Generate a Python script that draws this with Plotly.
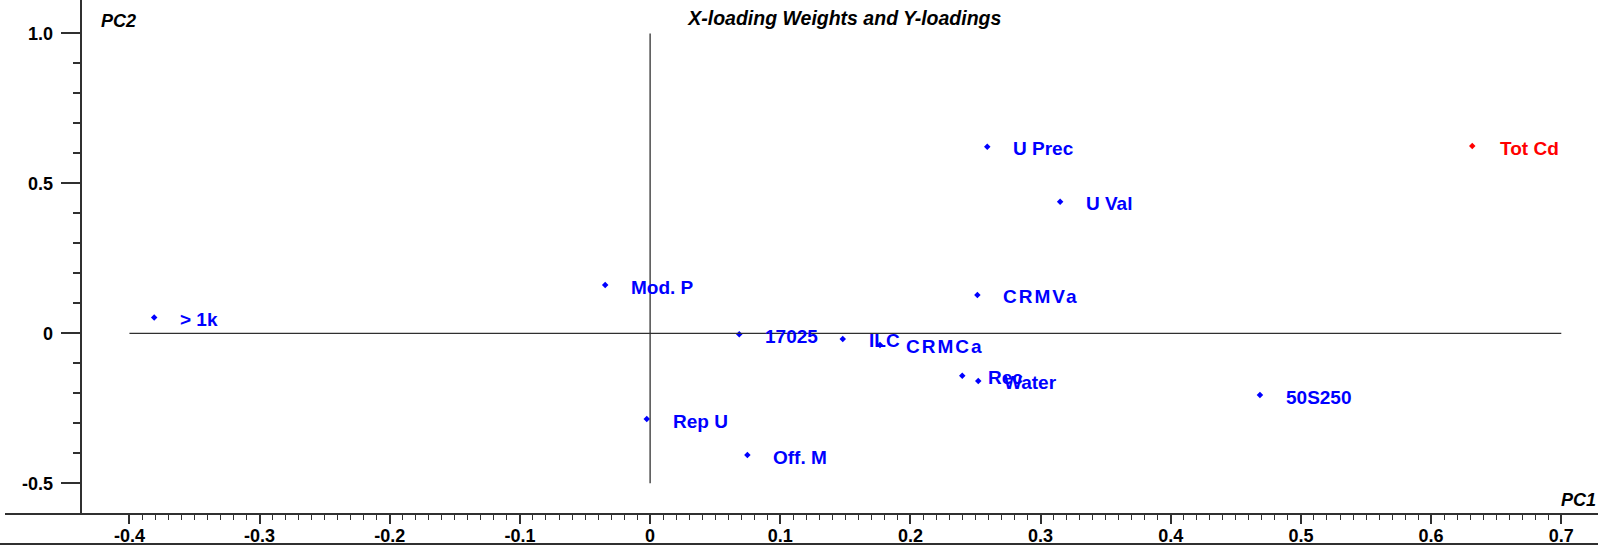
import numpy as np
import plotly.graph_objects as go

# ---- data ----
labels = ["> 1k", "Mod. P", "17025", "ILC", "CRMCa", "Rec", "Water", "CRMVa",
          "U Prec", "U Val", "50S250", "Rep U", "Off. M"]
pc1 = [-0.381, -0.0345, 0.0685, 0.148, 0.1766, 0.2398, 0.2521, 0.2514,
       0.259, 0.315, 0.4685, -0.0026, 0.0747]
pc2 = [0.053, 0.161, -0.003, -0.019, -0.039, -0.142, -0.159, 0.128,
       0.622, 0.439, -0.206, -0.286, -0.406]

y_labels = ["Tot Cd"]
y_pc1 = [0.6316]
y_pc2 = [0.6247]

x_ticks = [-0.4, -0.3, -0.2, -0.1, 0.0, 0.1, 0.2, 0.3, 0.4, 0.5, 0.6, 0.7]
x_ticktext = ["-0.4", "-0.3", "-0.2", "-0.1", "0", "0.1", "0.2", "0.3", "0.4", "0.5", "0.6", "0.7"]
y_ticks = [-0.5, 0.0, 0.5, 1.0]
y_ticktext = ["-0.5", "0", "0.5", "1.0"]

BLUE = "#0000ff"
RED = "#ff0000"
AX = "#303030"
FONT = "Liberation Sans, Arial, sans-serif"

x_minor = [round(v, 2) for v in np.arange(-0.40, 0.7001, 0.01)]
y_minor = [round(v, 2) for v in np.arange(-0.5, 1.0001, 0.1)]


def spaced(s):
    # the original renders the CRM abbreviations with wider letter spacing
    if s.startswith("CRM"):
        return '<span style="letter-spacing:2px">' + s + "</span>"
    return s


fig = go.Figure()
fig.add_trace(go.Scatter(x=pc1, y=pc2, mode="markers",
                         marker=dict(symbol="diamond", size=5, color=BLUE),
                         hoverinfo="text", text=labels, showlegend=False))
fig.add_trace(go.Scatter(x=y_pc1, y=y_pc2, mode="markers",
                         marker=dict(symbol="diamond", size=5, color=RED),
                         hoverinfo="text", text=y_labels, showlegend=False))

for lab, xv, yv in zip(labels, pc1, pc2):
    fig.add_annotation(x=xv, y=yv, text=spaced(lab), showarrow=False, xanchor="left",
                       yanchor="middle", xshift=24, yshift=-2,
                       font=dict(family=FONT, size=19, color=BLUE, weight="bold"))
for lab, xv, yv in zip(y_labels, y_pc1, y_pc2):
    fig.add_annotation(x=xv, y=yv, text=lab, showarrow=False, xanchor="left",
                       yanchor="middle", xshift=26, yshift=-2,
                       font=dict(family=FONT, size=19, color=RED, weight="bold"))

# origin cross lines
fig.add_shape(type="line", xref="x", yref="y", x0=x_ticks[0], x1=x_ticks[-1], y0=0, y1=0,
              line=dict(color=AX, width=1.3))
fig.add_shape(type="line", xref="x", yref="y", x0=0, x1=0, y0=y_ticks[0], y1=y_ticks[-1],
              line=dict(color=AX, width=1.3))
# bottom frame line
fig.add_shape(type="line", xref="paper", yref="paper", x0=-0.01, x1=1.0, y0=-0.0604, y1=-0.0604,
              line=dict(color=AX, width=2))

# axis titles
fig.add_annotation(xref="paper", yref="paper", x=0.059, y=0.9597, text="PC2",
                   showarrow=False, xanchor="left", yanchor="middle",
                   font=dict(family=FONT, size=18, color="black", weight="bold", style="italic"))
fig.add_annotation(xref="paper", yref="paper", x=0.9753, y=0.0263, text="PC1",
                   showarrow=False, xanchor="left", yanchor="middle",
                   font=dict(family=FONT, size=18, color="black", weight="bold", style="italic"))

fig.update_layout(
    width=1598, height=548,
    margin=dict(l=5, r=0, t=0, b=35),
    paper_bgcolor="white", plot_bgcolor="white",
    title=dict(text="X-loading Weights and Y-loadings", xref="paper", x=0.4289,
               xanchor="left", yref="container", y=0.967, yanchor="middle",
               font=dict(family=FONT, size=19.5, color="black", weight="bold", style="italic")),
    xaxis=dict(range=[-0.4956, 0.7282], showgrid=False, zeroline=False,
               showline=True, linecolor=AX, linewidth=1.5,
               tickmode="array", tickvals=x_ticks, ticktext=x_ticktext,
               ticks="outside", ticklen=9, tickwidth=1.5, tickcolor=AX,
               ticklabelstandoff=-3,
               minor=dict(tickmode="array", tickvals=x_minor, ticks="outside", ticklen=5,
                          tickwidth=1, tickcolor=AX, showgrid=False),
               tickfont=dict(family=FONT, size=18, color="black", weight="bold")),
    yaxis=dict(range=[-0.5994, 1.1117], showgrid=False, zeroline=False,
               anchor="free", position=0.048,
               showline=True, linecolor=AX, linewidth=1.5,
               tickmode="array", tickvals=y_ticks, ticktext=y_ticktext,
               ticks="outside", ticklen=20, tickwidth=1.5, tickcolor=AX,
               ticklabelstandoff=4,
               minor=dict(tickmode="array", tickvals=y_minor, ticks="outside", ticklen=8,
                          tickwidth=1.5, tickcolor=AX, showgrid=False),
               tickfont=dict(family=FONT, size=18, color="black", weight="bold")),
)

fig.write_html(
    "out.html",
    config={"displayModeBar": False},
    post_script="document.body.style.margin='0';document.body.style.overflow='hidden';",
)
